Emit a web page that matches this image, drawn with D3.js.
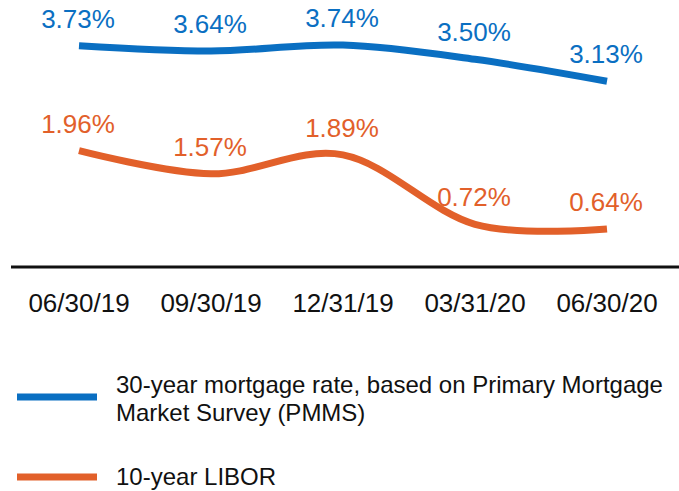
<!doctype html>
<html>
    <head>
        <meta charset="utf-8" />
        <title>Rates</title>
        <style>
            body { margin: 0; background: #fff; }
            text { font-family: "Liberation Sans", Arial, sans-serif; }
        </style>
    </head>
    <script src="https://d3js.org/d3.v7.min.js"></script>

    <body>
        <svg width="679" height="491"></svg>
        <script>
            var dates = ["06/30/19", "09/30/19", "12/31/19", "03/31/20", "06/30/20"];
            var mortgage = [3.73, 3.64, 3.74, 3.50, 3.13];
            var libor = [1.96, 1.57, 1.89, 0.72, 0.64];
            var seriesNames = ["30-year mortgage rate, based on Primary Mortgage|Market Survey (PMMS)", "10-year LIBOR"];
            var colors = ["#0A6FC2", "#E2602A"];

            var svg = d3.select("svg");

            var x = d3.scalePoint().domain(dates).range([79, 607]);
            var y = d3.scaleLinear().domain([0, 4.5]).range([267, 0]);

            var line = d3.line()
                .x((d, i) => x(dates[i]))
                .y(d => y(d))
                .curve(d3.curveCardinal.tension(0));

            var series = [mortgage, libor];

            // axis line along zero
            svg.append("line")
               .attr("x1", 11).attr("x2", 679)
               .attr("y1", y(0)).attr("y2", y(0))
               .style("stroke", "#111").style("stroke-width", 3);

            svg.append("g").selectAll("text").data(dates).enter()
               .append("text")
               .attr("x", d => x(d))
               .attr("y", 312)
               .attr("text-anchor", "middle")
               .style("font-size", "26px")
               .style("fill", "#111")
               .text(d => d);

            series.forEach(function(vals, k) {
                svg.append("path")
                   .datum(vals)
                   .attr("d", line)
                   .style("fill", "none")
                   .style("stroke", colors[k])
                   .style("stroke-width", 7);

                svg.append("g").selectAll("text").data(vals).enter()
                   .append("text")
                   .attr("x", (d, i) => x(dates[i]) - 1)
                   .attr("y", d => y(d) - 18)
                   .attr("text-anchor", "middle")
                   .style("font-size", "26px")
                   .style("fill", colors[k])
                   .text(d => d.toFixed(2) + "%");
            });

            // legend
            var legendY = [397, 477];
            seriesNames.forEach(function(name, k) {
                svg.append("rect")
                   .attr("x", 17).attr("width", 80)
                   .attr("y", legendY[k] - 3.5).attr("height", 7)
                   .style("fill", colors[k]);
                var lines = name.split("|");
                var t = svg.append("text")
                   .attr("x", 116)
                   .attr("y", lines.length > 1 ? legendY[k] - 4 : legendY[k] + 8)
                   .style("font-size", "24px")
                   .style("fill", "#111");
                lines.forEach(function(s, j) {
                    t.append("tspan").attr("x", 116).attr("dy", j ? 28 : 0).text(s);
                });
            });
        </script>
    </body>
</html>
